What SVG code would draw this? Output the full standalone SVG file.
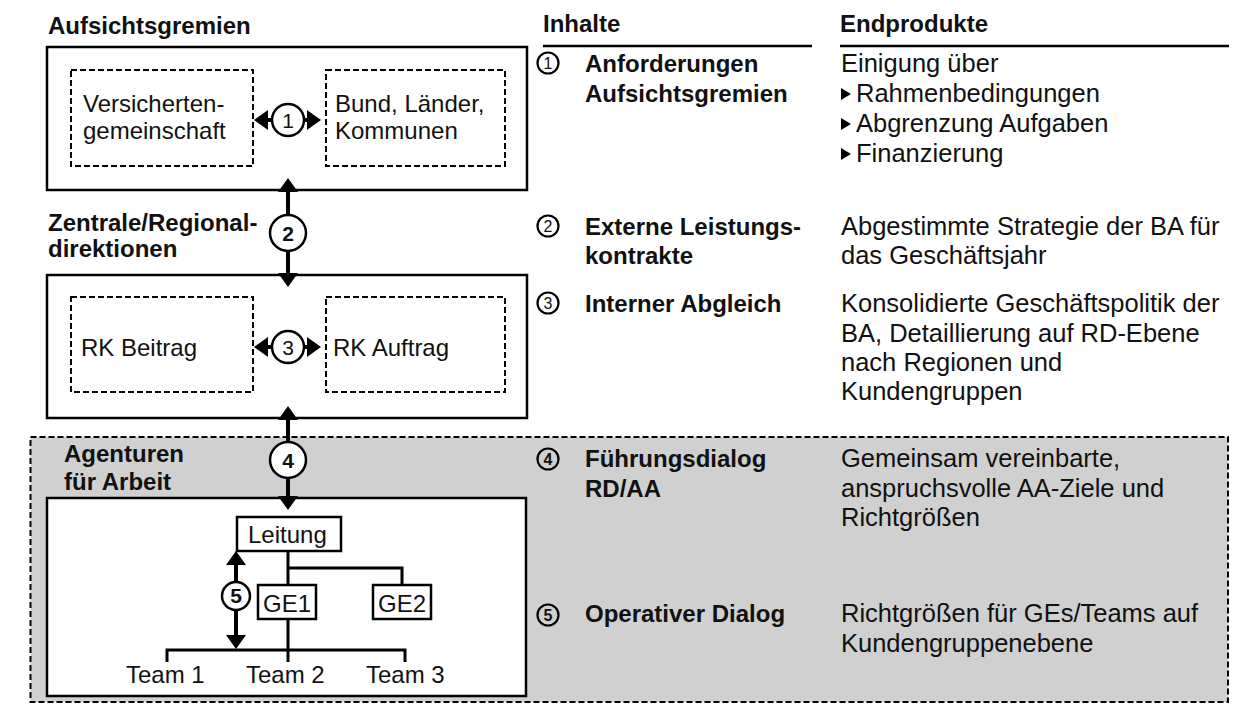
<svg xmlns="http://www.w3.org/2000/svg" width="1239" height="705" viewBox="0 0 1239 705">
  <defs>
    <marker id="head" viewBox="0 0 14 20" markerUnits="userSpaceOnUse" markerWidth="14" markerHeight="20" refX="1" refY="10" orient="auto-start-reverse">
      <path d="M0,0 L14,10 L0,20 z" fill="#000"/>
    </marker>
    <style>
      text { font-family: "Liberation Sans", Arial, sans-serif; fill: #111; }
      .h { font-weight: bold; font-size: 24px; }
      .t { font-size: 24px; }
      .r { font-size: 25.5px; }
      .rb { font-size: 24px; font-weight: bold; }
      .frame { fill: #fff; stroke: #000; stroke-width: 2.5; }
      .dash { fill: none; stroke: #000; stroke-width: 2; stroke-dasharray: 6 3; }
      .box { fill: #fff; stroke: #000; stroke-width: 2.5; }
      .tree { fill: none; stroke: #000; stroke-width: 3; }
      .conn { stroke: #000; stroke-width: 4; fill: none; marker-start: url(#head); marker-end: url(#head); }
      .badge { fill: #fff; stroke: #000; stroke-width: 2.5; }
      .num { font-size: 21px; text-anchor: middle; }
      .numb { font-size: 21px; font-weight: bold; text-anchor: middle; }
      .rc { fill: none; stroke: #000; stroke-width: 2.2; }
      .rn { font-size: 16px; text-anchor: middle; }
      .rnb { font-size: 16px; font-weight: bold; text-anchor: middle; }
      .rule { stroke: #000; stroke-width: 2.5; }
    </style>
  </defs>

  <rect x="0" y="0" width="1239" height="705" fill="#fff"/>

  <!-- shaded band of the agency level -->
  <rect id="agency-band" x="30.5" y="437" width="1197.5" height="265" fill="#d0d0d0" stroke="#000" stroke-width="2" stroke-dasharray="6 3"/>

  <!-- column headings -->
  <g id="headings">
    <text class="h" x="48" y="34">Aufsichtsgremien</text>
    <text class="h" x="543" y="32">Inhalte</text>
    <line class="rule" x1="543" y1="46" x2="812" y2="46"/>
    <text class="h" x="840" y="32">Endprodukte</text>
    <line class="rule" x1="840" y1="46" x2="1229" y2="46"/>
  </g>

  <!-- level 1: supervisory bodies -->
  <g id="aufsicht">
    <rect class="frame" x="47" y="47" width="480" height="143"/>
    <rect class="dash" x="71" y="70" width="182" height="96"/>
    <text class="t" x="83" y="112">Versicherten-</text>
    <text class="t" x="83" y="139">gemeinschaft</text>
    <rect class="dash" x="326" y="70" width="179" height="96"/>
    <text class="t" x="335" y="112">Bund, Länder,</text>
    <text class="t" x="335" y="139">Kommunen</text>
  </g>

  <!-- level 2: head office / regional directorates -->
  <g id="zentrale">
    <text class="h" x="48" y="231">Zentrale/Regional-</text>
    <text class="h" x="48" y="257">direktionen</text>
    <rect class="frame" x="47" y="275" width="480" height="143"/>
    <rect class="dash" x="71" y="297" width="182" height="95"/>
    <text class="t" x="81" y="356">RK Beitrag</text>
    <rect class="dash" x="326" y="297" width="179" height="95"/>
    <text class="t" x="333" y="356">RK Auftrag</text>
  </g>

  <!-- level 3: employment agencies -->
  <g id="agenturen">
    <text class="h" x="64" y="462">Agenturen</text>
    <text class="h" x="64" y="490">für Arbeit</text>
    <rect class="frame" x="47" y="498" width="479" height="198"/>
  </g>

  <!-- organisation chart inside the agency -->
  <g id="org-lines">
    <polyline class="tree" points="288,551 288,650"/>
    <polyline class="tree" points="288,568 402,568 402,585"/>
    <polyline class="tree" points="167,662 167,650 405,650 405,662"/>
    <line class="tree" x1="288" y1="650" x2="288" y2="662"/>
  </g>
  <g id="leitung">
    <rect class="box" x="237" y="517" width="104" height="34"/>
    <text class="t" x="248" y="543">Leitung</text>
  </g>
  <g id="ge1">
    <rect class="box" x="258" y="585" width="58" height="34"/>
    <text class="t" x="263" y="612">GE1</text>
  </g>
  <g id="ge2">
    <rect class="box" x="373" y="585" width="58" height="34"/>
    <text class="t" x="378" y="612">GE2</text>
  </g>
  <g id="team1"><text class="t" x="126" y="683">Team 1</text></g>
  <g id="team2"><text class="t" x="246" y="683">Team 2</text></g>
  <g id="team3"><text class="t" x="366" y="683">Team 3</text></g>

  <!-- dialogue connectors -->
  <g id="connectors">
    <line class="conn" x1="267" y1="120" x2="308" y2="120"/>
    <line class="conn" x1="288" y1="191" x2="288" y2="274"/>
    <line class="conn" x1="267" y1="347" x2="308" y2="347"/>
    <line class="conn" x1="288" y1="419" x2="288" y2="497"/>
    <line class="conn" x1="236" y1="564" x2="236" y2="636"/>

    <circle class="badge" cx="288" cy="120" r="16"/>
    <text class="num" x="288" y="127.5">1</text>
    <circle class="badge" cx="288" cy="233" r="18"/>
    <text class="numb" x="288" y="240.5">2</text>
    <circle class="badge" cx="288" cy="347" r="16"/>
    <text class="num" x="288" y="354.5">3</text>
    <circle class="badge" cx="288" cy="460" r="18"/>
    <text class="numb" x="288" y="467.5">4</text>
    <circle class="badge" cx="236" cy="596" r="14"/>
    <text class="numb" x="236" y="603">5</text>
  </g>

  <!-- contents and results per dialogue step -->
  <g id="row1">
    <circle class="rc" cx="548" cy="63" r="10.5"/>
    <text class="rn" x="548" y="69">1</text>
    <text class="rb" x="585" y="72">Anforderungen</text>
    <text class="rb" x="585" y="102">Aufsichtsgremien</text>
    <text class="r" x="841" y="72">Einigung über</text>
    <polygon points="841,88 851,94 841,100" fill="#000"/>
    <text class="r" x="856" y="102">Rahmenbedingungen</text>
    <polygon points="841,118 851,124 841,130" fill="#000"/>
    <text class="r" x="856" y="132">Abgrenzung Aufgaben</text>
    <polygon points="841,148 851,154 841,160" fill="#000"/>
    <text class="r" x="856" y="162">Finanzierung</text>
  </g>

  <g id="row2">
    <circle class="rc" cx="548" cy="226" r="10.5"/>
    <text class="rn" x="548" y="232">2</text>
    <text class="rb" x="585" y="235">Externe Leistungs-</text>
    <text class="rb" x="585" y="264">kontrakte</text>
    <text class="r" x="841" y="235">Abgestimmte Strategie der BA für</text>
    <text class="r" x="841" y="264">das Geschäftsjahr</text>
  </g>

  <g id="row3">
    <circle class="rc" cx="548" cy="303" r="10.5"/>
    <text class="rn" x="548" y="309">3</text>
    <text class="rb" x="585" y="312">Interner Abgleich</text>
    <text class="r" x="841" y="312">Konsolidierte Geschäftspolitik der</text>
    <text class="r" x="841" y="342">BA, Detaillierung auf RD-Ebene</text>
    <text class="r" x="841" y="371">nach Regionen und</text>
    <text class="r" x="841" y="400">Kundengruppen</text>
  </g>

  <g id="row4">
    <circle class="rc" cx="548" cy="459" r="10.5"/>
    <text class="rnb" x="548" y="465">4</text>
    <text class="rb" x="585" y="467">Führungsdialog</text>
    <text class="rb" x="585" y="497">RD/AA</text>
    <text class="r" x="841" y="467">Gemeinsam vereinbarte,</text>
    <text class="r" x="841" y="497">anspruchsvolle AA-Ziele und</text>
    <text class="r" x="841" y="526">Richtgrößen</text>
  </g>

  <g id="row5">
    <circle class="rc" cx="548" cy="615" r="10.5"/>
    <text class="rnb" x="548" y="621">5</text>
    <text class="rb" x="585" y="622">Operativer Dialog</text>
    <text class="r" x="841" y="622">Richtgrößen für GEs/Teams auf</text>
    <text class="r" x="841" y="652">Kundengruppenebene</text>
  </g>
</svg>
